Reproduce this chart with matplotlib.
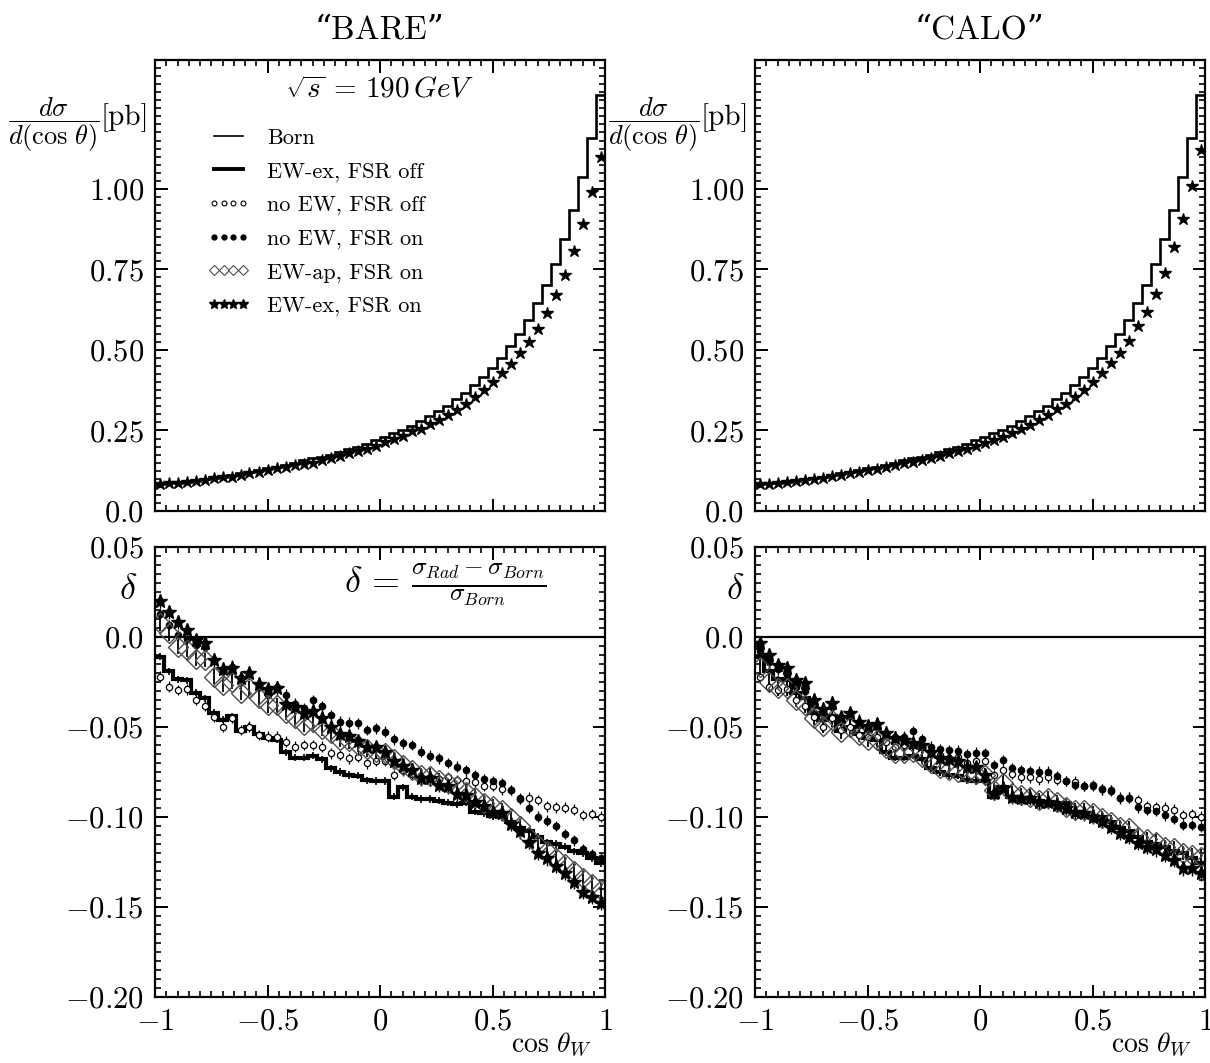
import numpy as np
import matplotlib
matplotlib.use('Agg')
import matplotlib.pyplot as plt
from matplotlib.lines import Line2D
from matplotlib.ticker import FixedLocator, FixedFormatter, MultipleLocator

plt.rcParams['font.family'] = ['cmr10', 'DejaVu Serif']
plt.rcParams['mathtext.fontset'] = 'cm'

# 50 bins in cos(theta_W)
edges = np.linspace(-1.0, 1.0, 51)
centers = 0.5 * (edges[:-1] + edges[1:])

# dsigma/dcos [pb], Born (same in both columns)
born = [0.083, 0.086, 0.088, 0.091, 0.094, 0.099, 0.102, 0.107, 0.112, 0.117,
        0.122, 0.128, 0.133, 0.138, 0.144, 0.150, 0.157, 0.163, 0.169, 0.175,
        0.184, 0.192, 0.200, 0.209, 0.219, 0.230, 0.242, 0.252, 0.265, 0.278,
        0.294, 0.309, 0.327, 0.348, 0.367, 0.392, 0.417, 0.444, 0.476, 0.512,
        0.550, 0.593, 0.647, 0.702, 0.768, 0.844, 0.935, 1.038, 1.159, 1.291]
# EW-ex, FSR on
xs_bare = [0.084, 0.086, 0.088, 0.090, 0.094, 0.097, 0.102, 0.105, 0.107, 0.113,
           0.117, 0.121, 0.126, 0.132, 0.136, 0.142, 0.146, 0.150, 0.158, 0.164,
           0.171, 0.180, 0.186, 0.194, 0.202, 0.213, 0.223, 0.234, 0.247, 0.256,
           0.271, 0.283, 0.299, 0.315, 0.333, 0.354, 0.375, 0.400, 0.427, 0.455,
           0.489, 0.525, 0.566, 0.614, 0.670, 0.732, 0.806, 0.891, 0.990, 1.099]
xs_calo = [0.083, 0.085, 0.087, 0.089, 0.092, 0.096, 0.098, 0.103, 0.108, 0.112,
           0.117, 0.122, 0.126, 0.131, 0.136, 0.142, 0.148, 0.153, 0.159, 0.164,
           0.172, 0.179, 0.186, 0.194, 0.203, 0.212, 0.221, 0.231, 0.241, 0.253,
           0.268, 0.281, 0.297, 0.316, 0.332, 0.354, 0.376, 0.400, 0.427, 0.458,
           0.490, 0.527, 0.573, 0.618, 0.675, 0.740, 0.818, 0.907, 1.008, 1.122]

# delta, no photons involved -> same for BARE and CALO
d_ewex_off = [-0.011, -0.019, -0.0235, -0.024, -0.031, -0.034, -0.042, -0.046, -0.044, -0.052,
              -0.050, -0.054, -0.056, -0.057, -0.064, -0.067, -0.067, -0.066, -0.068, -0.073,
              -0.075, -0.0767, -0.077, -0.0795, -0.080, -0.080, -0.0887, -0.0835, -0.0887, -0.090,
              -0.090, -0.091, -0.092, -0.093, -0.092, -0.097, -0.098, -0.0995, -0.100, -0.103,
              -0.106, -0.108, -0.111, -0.114, -0.115, -0.1165, -0.119, -0.120, -0.123, -0.1255]
d_noew_off = [-0.022, -0.0276, -0.0294, -0.029, -0.035, -0.0383, -0.0443, -0.0498, -0.045, -0.0517,
              -0.0498, -0.0544, -0.0554, -0.0554, -0.0581, -0.061, -0.060, -0.060, -0.061, -0.0646,
              -0.0656, -0.0674, -0.0665, -0.0702, -0.0687, -0.0687, -0.0767, -0.074, -0.076, -0.078,
              -0.078, -0.079, -0.078, -0.0794, -0.080, -0.0804, -0.0828, -0.0828, -0.0846, -0.085,
              -0.0896, -0.0893, -0.0906, -0.094, -0.0946, -0.0948, -0.096, -0.0989, -0.0983, -0.0998]

# BARE
d_noew_on_bare = [0.013, 0.0067, 0.001, -0.001, -0.0044, -0.0054, -0.0128, -0.019, -0.0165, -0.023,
                  -0.020, -0.0276, -0.032, -0.0276, -0.032, -0.037, -0.0396, -0.035, -0.0383, -0.0433,
                  -0.047, -0.0476, -0.048, -0.0517, -0.0507, -0.0526, -0.0568, -0.059, -0.060, -0.0637,
                  -0.066, -0.0674, -0.070, -0.072, -0.074, -0.0767, -0.079, -0.080, -0.0813, -0.085,
                  -0.090, -0.095, -0.0998, -0.102, -0.105, -0.1094, -0.113, -0.118, -0.1206, -0.123]
d_ewap_bare = [0.0076, 0.002, -0.0054, -0.0072, -0.012, -0.0128, -0.022, -0.0267, -0.0248, -0.031,
               -0.0285, -0.034, -0.038, -0.038, -0.042, -0.045, -0.049, -0.047, -0.051, -0.0535,
               -0.057, -0.058, -0.060, -0.0624, -0.064, -0.0646, -0.068, -0.071, -0.074, -0.0767,
               -0.077, -0.0795, -0.081, -0.083, -0.086, -0.0887, -0.092, -0.094, -0.096, -0.1007,
               -0.105, -0.111, -0.1155, -0.119, -0.123, -0.126, -0.130, -0.134, -0.137, -0.1405]
d_ewex_on_bare = [0.020, 0.014, 0.0085, 0.004, -0.0017, -0.0035, -0.013, -0.018, -0.017, -0.023,
                  -0.020, -0.026, -0.029, -0.0285, -0.037, -0.039, -0.042, -0.041, -0.045, -0.050,
                  -0.054, -0.055, -0.058, -0.061, -0.061, -0.064, -0.069, -0.0717, -0.074, -0.0785,
                  -0.0785, -0.082, -0.083, -0.087, -0.088, -0.0915, -0.094, -0.097, -0.098, -0.104,
                  -0.108, -0.114, -0.120, -0.123, -0.127, -0.131, -0.136, -0.1415, -0.1446, -0.1476]
# CALO
d_noew_on_calo = [-0.008, -0.014, -0.018, -0.021, -0.028, -0.030, -0.038, -0.043, -0.039, -0.047,
                  -0.044, -0.049, -0.051, -0.050, -0.054, -0.0554, -0.0554, -0.0522, -0.0569, -0.061,
                  -0.0624, -0.0628, -0.0631, -0.065, -0.0643, -0.0646, -0.0711, -0.0683, -0.073, -0.0739,
                  -0.0744, -0.0748, -0.0748, -0.0772, -0.080, -0.0822, -0.0828, -0.0822, -0.0846, -0.0854,
                  -0.0893, -0.0893, -0.0946, -0.0961, -0.0967, -0.099, -0.101, -0.1044, -0.1044, -0.1055]
d_ewap_calo = [-0.0165, -0.0248, -0.0285, -0.0285, -0.035, -0.038, -0.045, -0.0494, -0.046, -0.0526,
               -0.0498, -0.0544, -0.057, -0.057, -0.0618, -0.0646, -0.0646, -0.0637, -0.0665, -0.0702,
               -0.073, -0.0739, -0.0748, -0.0757, -0.076, -0.0767, -0.085, -0.0813, -0.0868, -0.0878,
               -0.0887, -0.0906, -0.0896, -0.0915, -0.0946, -0.096, -0.096, -0.098, -0.1007, -0.103,
               -0.1054, -0.1063, -0.111, -0.1124, -0.1137, -0.1165, -0.1174, -0.120, -0.121, -0.122]
d_ewex_on_calo = [-0.0035, -0.010, -0.0156, -0.0174, -0.0239, -0.0257, -0.035, -0.040, -0.0369, -0.0443,
                  -0.0424, -0.047, -0.0494, -0.0483, -0.0535, -0.0563, -0.057, -0.059, -0.060, -0.064,
                  -0.067, -0.068, -0.069, -0.072, -0.072, -0.0767, -0.0868, -0.084, -0.0887, -0.0896,
                  -0.0896, -0.0915, -0.0915, -0.0933, -0.095, -0.097, -0.098, -0.0998, -0.102, -0.1054,
                  -0.109, -0.111, -0.1146, -0.1165, -0.118, -0.121, -0.124, -0.1285, -0.1285, -0.1313]

# MC errors (roughly constant by eye)
err_dot = 0.003
err_big = 0.004

x_ticks = [-1, -0.5, 0, 0.5, 1]
x_labels = [r'$-1$', r'$-0.5$', r'$0$', r'$0.5$', r'$1$']
top_ticks = [0.0, 0.25, 0.5, 0.75, 1.0]
top_labels = [r'$0.0$', r'$0.25$', r'$0.50$', r'$0.75$', r'$1.00$']
bot_ticks = [0.05, 0.0, -0.05, -0.10, -0.15, -0.20]
bot_labels = [r'$0.05$', r'$0.0$', r'$-0.05$', r'$-0.10$', r'$-0.15$', r'$-0.20$']

W, H = 1210, 1063
fig = plt.figure(figsize=(W / 100, H / 100), dpi=100)


def px_axes(x0, y_top, y_bot):
    return fig.add_axes([x0 / W, 1 - y_bot / H, 450 / W, (y_bot - y_top) / H])


def style(ax, yticks, ylabels, yminor, ylim, xlabels):
    ax.set_xlim(-1, 1)
    ax.set_ylim(*ylim)
    ax.xaxis.set_major_locator(FixedLocator(x_ticks))
    ax.xaxis.set_minor_locator(MultipleLocator(0.05))
    ax.yaxis.set_major_locator(FixedLocator(yticks))
    ax.yaxis.set_major_formatter(FixedFormatter(ylabels))
    ax.yaxis.set_minor_locator(MultipleLocator(yminor))
    if xlabels:
        ax.xaxis.set_major_formatter(FixedFormatter(x_labels))
    else:
        ax.set_xticklabels([])
    ax.tick_params(which='both', direction='in', top=True, right=True, labelsize=22)
    ax.tick_params(which='major', length=9, width=1.4, pad=8)
    ax.tick_params(which='minor', length=4.5, width=1.2)
    for s in ax.spines.values():
        s.set_linewidth(1.6)


def draw_top(ax, stars):
    ax.stairs(born, edges, baseline=None, color='k', lw=1.9)
    ax.plot(centers, stars, ls='none', marker='*', ms=9, color='k')
    style(ax, top_ticks, top_labels, 0.025, (0, 1.4), False)


def draw_bottom(ax, d_on, d_ap, d_ex):
    ax.axhline(0, color='k', lw=1.6)
    ax.stairs(d_ewex_off, edges, baseline=None, color='k', lw=3.0)
    ax.errorbar(centers, d_ewex_off, yerr=0.002, fmt='none', ecolor='k', elinewidth=1.2)
    ax.errorbar(centers, d_noew_off, yerr=err_dot, fmt='o', ms=4.5, mfc='white', mec='k',
                mew=0.9, ecolor='k', elinewidth=0.9)
    ax.errorbar(centers, d_on, yerr=err_dot, fmt='o', ms=4.5, color='k', elinewidth=0.9)
    ax.errorbar(centers, d_ap, yerr=err_big, fmt='D', ms=10, mfc='none', mec='0.3',
                mew=1.0, ecolor='k', elinewidth=1.3)
    ax.errorbar(centers, d_ex, yerr=err_big, fmt='*', ms=10, color='k', elinewidth=1.0)
    style(ax, bot_ticks, bot_labels, 0.005, (-0.2, 0.05), True)
    ax.text(0.88, -0.107, r'$\cos\,\theta_W$', transform=ax.transAxes,
            ha='center', va='center', fontsize=20)


ax_tl = px_axes(155, 60, 511)
ax_tr = px_axes(755, 60, 511)
ax_bl = px_axes(155, 547, 997)
ax_br = px_axes(755, 547, 997)

draw_top(ax_tl, xs_bare)
draw_top(ax_tr, xs_calo)
draw_bottom(ax_bl, d_noew_on_bare, d_ewap_bare, d_ewex_on_bare)
draw_bottom(ax_br, d_noew_on_calo, d_ewap_calo, d_ewex_on_calo)

# legend (top left)
handles = [
    Line2D([], [], color='k', lw=1.2, label='Born'),
    Line2D([], [], color='k', lw=2.8, label='EW-ex, FSR off'),
    Line2D([], [], ls='none', marker='o', ms=3.5, mfc='white', mec='k', mew=0.8, label='no EW, FSR off'),
    Line2D([], [], ls='none', marker='o', ms=3.5, color='k', label='no EW, FSR on'),
    Line2D([], [], ls='none', marker='D', ms=5, mfc='white', mec='0.3', mew=0.8, label='EW-ap, FSR on'),
    Line2D([], [], ls='none', marker='*', ms=7, color='k', label='EW-ex, FSR on'),
]
ax_tl.legend(handles=handles, loc='upper left', bbox_to_anchor=(0.072, 0.893), frameon=False,
             fontsize=16, numpoints=4, handlelength=1.9, handletextpad=0.8, labelspacing=0.62)

ax_tl.text(0.5, 0.934, r'$\sqrt{s}\,=\,190\,GeV$', transform=ax_tl.transAxes,
           ha='center', va='center', fontsize=21)
ax_bl.text(0.644, 0.915, r'$\delta\,=\,\frac{\sigma_{Rad}-\sigma_{Born}}{\sigma_{Born}}$',
           transform=ax_bl.transAxes, ha='center', va='center', fontsize=26)

fig.text(380 / W, 1 - 30 / H, '\u201cBARE\u201d', ha='center', va='center', fontsize=24)
fig.text(980 / W, 1 - 30 / H, '\u201cCALO\u201d', ha='center', va='center', fontsize=24)

for x0 in (8, 608):
    fig.text(x0 / W, 1 - 125 / H, r'$\dfrac{d\sigma}{d(\cos\,\theta)}$', ha='left', va='center', fontsize=19)
    fig.text((x0 + 92) / W, 1 - 118 / H, '[pb]', ha='left', va='center', fontsize=21)
for x0 in (128, 735):
    fig.text(x0 / W, 1 - 590 / H, r'$\delta$', ha='center', va='center', fontsize=26)

fig.savefig('out.png', dpi=100)
